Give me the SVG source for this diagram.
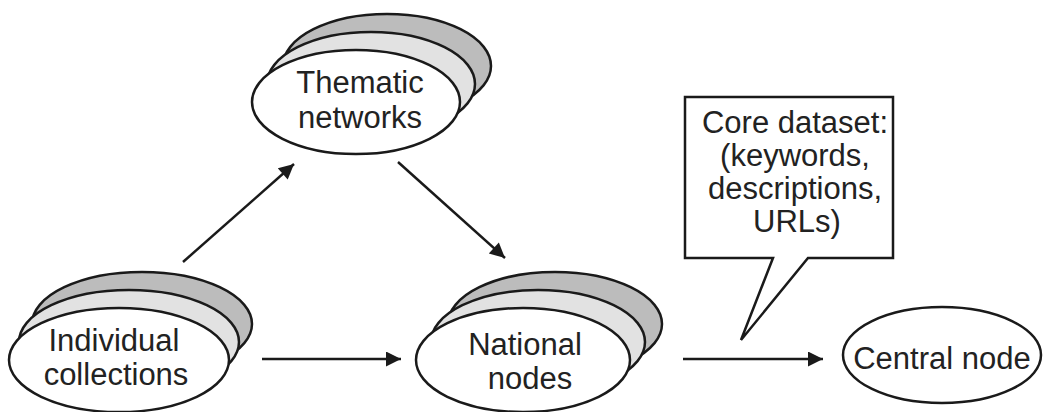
<svg xmlns="http://www.w3.org/2000/svg" width="1043" height="412" viewBox="0 0 1043 412">
  <defs>
    <marker id="arrow" viewBox="0 0 10 10" refX="10" refY="5" markerWidth="7" markerHeight="6" markerUnits="strokeWidth" orient="auto">
      <path d="M0,0 L10,5 L0,10 Z" fill="#1a1a1a"/>
    </marker>
    <style>
      .outline { stroke: #1a1a1a; stroke-width: 2.5; }
      .back { fill: #bcbcbc; }
      .mid { fill: #e2e2e2; }
      .front { fill: #ffffff; }
      .label { font-family: "Liberation Sans", Arial, sans-serif; font-size: 31px; fill: #222222; text-anchor: middle; }
      .edge { stroke: #1a1a1a; stroke-width: 2.5; fill: none; marker-end: url(#arrow); }
    </style>
  </defs>
  <rect width="1043" height="412" fill="#ffffff"/>

  <!-- connectors -->
  <g id="connectors">
    <line class="edge" x1="183" y1="262" x2="294" y2="164"/>
    <line class="edge" x1="398" y1="162" x2="505" y2="258"/>
    <line class="edge" x1="262" y1="359" x2="401" y2="359"/>
    <line class="edge" x1="683" y1="359" x2="823" y2="359"/>
  </g>

  <!-- stacked node: thematic networks -->
  <g id="thematic-networks">
    <ellipse class="outline back" cx="387" cy="66" rx="104" ry="52"/>
    <ellipse class="outline mid" cx="371" cy="84" rx="104" ry="52"/>
    <ellipse class="outline front" cx="356" cy="102" rx="104" ry="52"/>
    <text class="label" x="360" y="93">Thematic</text>
    <text class="label" x="360" y="128">networks</text>
  </g>

  <!-- stacked node: individual collections -->
  <g id="individual-collections">
    <ellipse class="outline back" cx="142" cy="324" rx="110" ry="52"/>
    <ellipse class="outline mid" cx="129" cy="342" rx="110" ry="52"/>
    <ellipse class="outline front" cx="119" cy="360" rx="110" ry="52"/>
    <text class="label" x="114" y="351">Individual</text>
    <text class="label" x="116" y="385">collections</text>
  </g>

  <!-- stacked node: national nodes -->
  <g id="national-nodes">
    <ellipse class="outline back" cx="555" cy="324" rx="107" ry="52"/>
    <ellipse class="outline mid" cx="538" cy="342" rx="107" ry="52"/>
    <ellipse class="outline front" cx="523" cy="360" rx="107" ry="52"/>
    <text class="label" x="525" y="355">National</text>
    <text class="label" x="530" y="389">nodes</text>
  </g>

  <!-- single node: central node -->
  <g id="central-node">
    <ellipse class="outline front" cx="942" cy="355" rx="99" ry="48"/>
    <text class="label" x="942" y="369">Central node</text>
  </g>

  <!-- callout with the core dataset -->
  <g id="core-dataset">
    <path class="outline front" stroke-width="2" d="M685,97 H893 V258 H808 L741,340 L773,258 H685 Z"/>
    <text class="label" x="795" y="133">Core dataset:</text>
    <text class="label" x="795" y="166">(keywords,</text>
    <text class="label" x="795" y="199">descriptions,</text>
    <text class="label" x="797" y="232">URLs)</text>
  </g>
</svg>
